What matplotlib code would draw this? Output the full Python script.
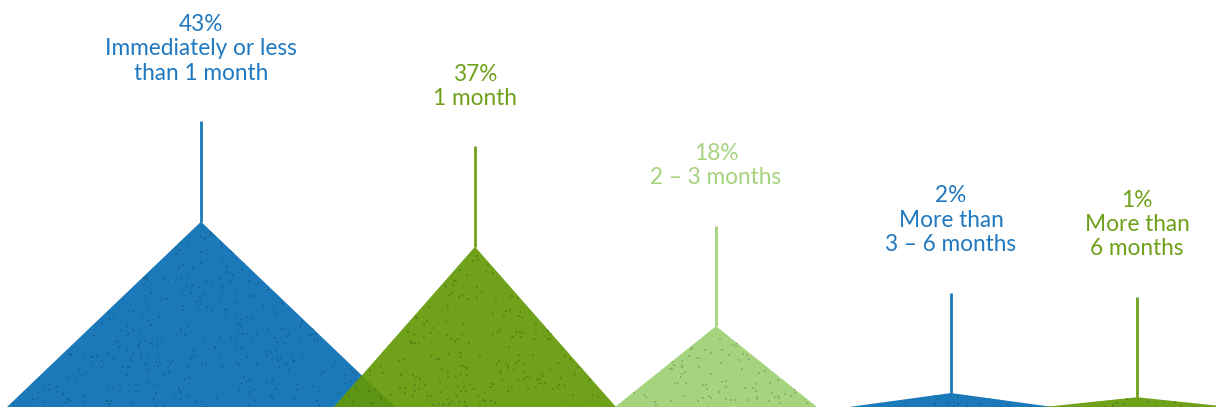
import numpy as np
import matplotlib.pyplot as plt
from matplotlib.patches import Polygon

# Tempo de resposta - participação de cada faixa
faixas = ['Immediately or less\nthan 1 month', '1 month', '2 – 3 months',
          'More than\n3 – 6 months', 'More than\n6 months']
percentuais = [43, 37, 18, 2, 1]

# Layout dos "montes" (em pixels no eixo x)
centro_x = [201, 475, 716, 951, 1137]
meia_base = [194, 141, 101, 102, 93]
cores = ['#1b79b9', '#6fa11b', '#a6d37e', '#1b79b9', '#6fa11b']
cores_texto = ['#1f78c0', '#6ea01a', '#a6d37e', '#1f78c0', '#6ea01a']
cor_sobreposicao = '#5c9513'

px_por_unidade = 4.18
base_y = -1.34
haste = 24  # comprimento da linha vertical (em unidades de %)

fig = plt.figure(figsize=(12.16, 4.07), dpi=100)
ax = fig.add_axes([0, 0, 1, 1])
ax.set_xlim(0, 1216)
ax.set_ylim(base_y, base_y + 407 / px_por_unidade)
ax.axis('off')

rng = np.random.default_rng(11)


def escurecer(cor, f=0.8):
    r, g, b = plt.matplotlib.colors.to_rgb(cor)
    return (r * f, g * f, b * f)


def textura(poly, cor):
    # pontinhos escuros para dar o efeito granulado
    xy = np.array(poly.get_xy())
    x0, x1 = xy[:, 0].min(), xy[:, 0].max()
    y0, y1 = xy[:, 1].min(), xy[:, 1].max()
    area_px = (x1 - x0) * (y1 - y0) * px_por_unidade / 2
    n = int(area_px / 55)
    xs = rng.uniform(x0, x1, n)
    ys = rng.uniform(y0, y1, n)
    pts = ax.scatter(xs, ys, s=2.6, marker='s', linewidths=0,
                     color=escurecer(cor), alpha=0.75, zorder=poly.get_zorder() + 0.1)
    pts.set_clip_path(poly)


def triangulo(i):
    cx, hw, v = centro_x[i], meia_base[i], percentuais[i]
    return [(cx - hw, base_y), (cx, v), (cx + hw, base_y)]


for i, v in enumerate(percentuais):
    pts = triangulo(i)
    poly = Polygon(pts, closed=True, facecolor=cores[i], edgecolor='none', zorder=2 + i)
    ax.add_patch(poly)
    textura(poly, cores[i])

    # linha vertical acima do pico
    ax.plot([centro_x[i], centro_x[i]], [v, v + haste], color=cores[i], lw=2,
            solid_capstyle='butt', zorder=10)

    ax.annotate(f'{v}%\n{faixas[i]}', xy=(centro_x[i], v + haste),
                xytext=(0, 27), textcoords='offset points', ha='center', va='bottom',
                fontsize=16.3, color=cores_texto[i], family='Lato', linespacing=1.2)

# área onde dois montes vizinhos se sobrepõem
for i in range(len(percentuais) - 1):
    a, b = triangulo(i), triangulo(i + 1)
    if a[2][0] <= b[0][0]:
        continue
    # lado direito de a e lado esquerdo de b
    p1, p2 = np.array(a[1]), np.array(a[2])
    q1, q2 = np.array(b[0]), np.array(b[1])
    m = np.column_stack([p2 - p1, -(q2 - q1)])
    t, _ = np.linalg.solve(m, q1 - p1)
    cruz = p1 + t * (p2 - p1)
    over = Polygon([b[0], tuple(cruz), a[2]], closed=True, facecolor=cor_sobreposicao,
                   edgecolor='none', zorder=8)
    ax.add_patch(over)
    textura(over, cor_sobreposicao)

fig.savefig('out.png', dpi=100)
